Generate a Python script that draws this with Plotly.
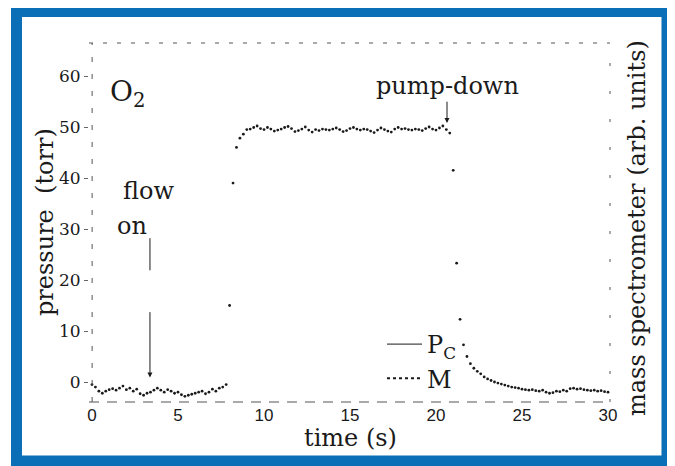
import plotly.graph_objects as go

# ---------------- data ----------------
time_s = [round(i * 0.2, 1) for i in range(151)]  # 0.0 .. 30.0 s sample times

mass_spec = [
    # 0.0 - 7.8 s (baseline before flow)
    -0.5, -1.0, -1.8, -2.2, -1.8, -1.5, -1.3, -1.6, -1.2, -0.8,
    -1.5, -1.2, -1.8, -1.4, -2.3, -2.6, -2.2, -2.0, -1.6, -1.2,
    -1.6, -2.0, -1.5, -1.8, -2.2, -2.0, -2.5, -2.8, -2.6, -2.4,
    -2.2, -2.0, -1.8, -2.3, -2.0, -1.4, -1.8, -1.2, -1.0, -0.5,
    # 8.0 - 9.0 s (rise)
    15.0, 39.0, 46.0, 47.8, 48.6, 49.5,
    # 9.2 - 20.4 s (plateau)
    49.6, 49.9, 50.2, 49.7, 49.5, 49.9, 49.6, 49.2, 49.4, 49.6,
    49.9, 50.1, 49.7, 49.1, 49.3, 49.6, 50.0, 49.4, 49.0, 49.5,
    49.3, 49.6, 49.5, 49.4, 49.6, 49.8, 49.5, 49.1, 49.3, 49.7,
    49.9, 49.6, 49.4, 49.6, 49.5, 49.2, 48.9, 49.4, 49.8, 49.5,
    49.2, 49.0, 49.6, 49.9, 49.6, 49.7, 49.5, 49.4, 49.6, 49.5,
    49.3, 49.7, 50.0, 49.6, 49.4, 49.8, 50.2,
    # 20.6 - 30.0 s (pump-down)
    49.5, 48.8, 41.5, 23.3, 12.3, 7.3, 5.0, 3.6, 2.7, 2.1,
    1.6, 1.0, 0.6, 0.3, 0.0, -0.2, -0.4, -0.6, -0.8, -1.0,
    -1.1, -1.2, -1.4, -1.5, -1.6, -1.5, -1.7, -1.8, -1.6, -2.0,
    -2.2, -2.1, -1.8, -1.9, -1.6, -1.8, -1.3, -1.2, -1.4, -1.3,
    -1.5, -1.6, -1.7, -1.6, -1.8, -1.7, -1.9, -2.0,
]

x_ticks = [0, 5, 10, 15, 20, 25, 30]
y_ticks = [0, 10, 20, 30, 40, 50, 60]
x_range = [-0.174, 30.116]
y_range = [-3.92, 66.47]

# ---------------- layout geometry ----------------
OFF = 8  # page body margin in the browser
W, H = 675 - OFF, 466 - OFF
ML, MR, MT, MB = 89 - OFF, 65, 43 - OFF, 64
PW, PH = W - ML - MR, H - MT - MB


def pxx(px):
    return (px - OFF - ML) / PW


def pxy(py):
    return (H - MB - (py - OFF)) / PH


SERIF = "DejaVu Serif"
INK = "#1a1a1a"

fig = go.Figure()

fig.add_trace(go.Scatter(
    x=time_s, y=mass_spec, mode="markers",
    marker=dict(size=2.8, color=INK), showlegend=False, hoverinfo="skip",
))
# legend entries
fig.add_trace(go.Scatter(
    x=[None], y=[None], mode="lines", name="P<sub>C</sub>",
    line=dict(color=INK, width=1),
))
fig.add_trace(go.Scatter(
    x=[None], y=[None], mode="lines", name="M",
    line=dict(color=INK, width=2, dash="dot"),
))

shapes = []
# blue outer frame
shapes.append(dict(type="rect", xref="paper", yref="paper",
                   x0=pxx(16.5), x1=pxx(667), y0=pxy(461), y1=pxy(11.5),
                   line=dict(color="#0a6fb6", width=11), layer="above"))
# dashed plot frame
frame_line = dict(color="#555555", width=1)
shapes.append(dict(type="line", xref="paper", yref="paper", x0=0, x1=1, y0=1, y1=1,
                   line=dict(frame_line, dash="4px,10px")))
shapes.append(dict(type="line", xref="paper", yref="paper", x0=0, x1=1, y0=0, y1=0,
                   line=dict(frame_line, dash="10px,8px")))
shapes.append(dict(type="line", xref="paper", yref="paper", x0=0.006, x1=0.006, y0=0, y1=1,
                   line=dict(frame_line, dash="5px,12px")))
shapes.append(dict(type="line", xref="paper", yref="paper", x0=1, x1=1, y0=0, y1=1,
                   line=dict(frame_line, dash="3px,25px")))
# upper part of the "flow on" arrow
shapes.append(dict(type="line", xref="x", yref="y", x0=3.37, x1=3.37, y0=28.2, y1=21.9,
                   line=dict(color=INK, width=1)))

annotations = [
    dict(text="time (s)", xref="paper", yref="paper", x=pxx(350), y=pxy(438),
         showarrow=False, font=dict(family=SERIF, size=24, color=INK),
         xanchor="center", yanchor="middle"),
    dict(text="pressure  (torr)", xref="paper", yref="paper", x=pxx(45), y=pxy(222),
         showarrow=False, textangle=-90, font=dict(family=SERIF, size=24, color=INK),
         xanchor="center", yanchor="middle"),
    dict(text="mass spectrometer (arb. units)", xref="paper", yref="paper",
         x=pxx(637), y=pxy(228), showarrow=False, textangle=-90,
         font=dict(family=SERIF, size=24, color=INK), xanchor="center", yanchor="middle"),
    dict(text="O<sub>2</sub>", xref="x", yref="y", x=2.05, y=56.5, showarrow=False,
         font=dict(family=SERIF, size=28, color=INK), xanchor="center", yanchor="middle"),
    dict(text="flow", xref="x", yref="y", x=3.3, y=37.5, showarrow=False,
         font=dict(family=SERIF, size=24, color=INK), xanchor="center", yanchor="middle"),
    dict(text="on", xref="x", yref="y", x=2.3, y=30.5, showarrow=False,
         font=dict(family=SERIF, size=24, color=INK), xanchor="center", yanchor="middle"),
    # pump-down label with its arrow
    dict(text="pump-down", xref="x", yref="y", x=20.64, y=50.8, ax=20.64, ay=58.0,
         axref="x", ayref="y", showarrow=True, arrowhead=2, arrowsize=1,
         arrowwidth=1, arrowcolor=INK,
         font=dict(family=SERIF, size=24, color=INK)),
    # lower part of the flow-on arrow
    dict(text="", xref="x", yref="y", x=3.37, y=0.9, ax=3.37, ay=14.0,
         axref="x", ayref="y", showarrow=True, arrowhead=2, arrowsize=1,
         arrowwidth=1, arrowcolor=INK),
]

fig.update_layout(
    width=W, height=H,
    margin=dict(l=ML, r=MR, t=MT, b=MB, pad=0),
    paper_bgcolor="white", plot_bgcolor="white",
    shapes=shapes, annotations=annotations,
    legend=dict(x=pxx(382), y=pxy(322), xanchor="left", yanchor="top",
                bgcolor="rgba(0,0,0,0)", font=dict(family=SERIF, size=24, color=INK),
                itemwidth=35, tracegroupgap=0),
    xaxis=dict(range=x_range, tickvals=x_ticks, showgrid=False, zeroline=False,
               showline=False, ticks="", tickfont=dict(family="Liberation Sans", size=17, color=INK),
               ticklabelstandoff=1),
    yaxis=dict(range=y_range, tickvals=y_ticks, showgrid=False, zeroline=False,
               showline=False, ticks="outside", ticklen=4, tickcolor="#666",
               tickfont=dict(family=SERIF, size=17, color=INK)),
)

fig.write_html("out.html")
